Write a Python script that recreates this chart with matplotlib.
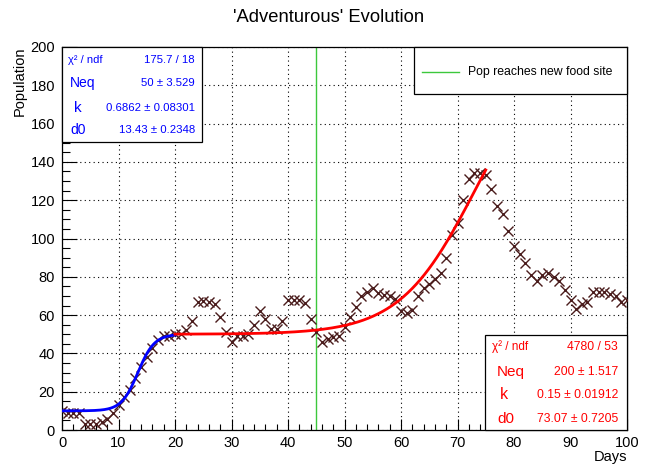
import numpy as np
import matplotlib
matplotlib.use("Agg")
import matplotlib.pyplot as plt
from matplotlib.patches import Rectangle
from matplotlib.ticker import MultipleLocator

plt.rcParams['font.family'] = ['Liberation Sans', 'DejaVu Sans']

# ---------------- data ----------------
days = list(range(0, 101))
population = [
    10, 9, 9, 9, 3, 3, 3, 4, 6, 9,            # 0-9
    13, 17, 21, 27, 33, 38, 43, 47, 49, 49,   # 10-19
    50, 50, 52, 57, 67, 67.5, 67, 66, 59, 51, # 20-29
    46, 49, 49, 50, 55, 62, 58, 53, 53, 57,   # 30-39
    68, 68, 68, 66.5, 58, 51, 46, 47.5, 48.5, 49,  # 40-49
    54, 59, 64, 70, 72, 74, 71.5, 70.5, 70, 68.5,  # 50-59
    62, 61, 62.5, 70, 74, 76.5, 79, 82, 90, 102,   # 60-69
    108, 120, 131, 134, 134, 133, 126, 117, 113, 104,  # 70-79
    96, 92, 87, 81, 78, 81, 82, 80, 78, 73,   # 80-89
    68, 63, 66, 67, 72, 72, 72, 71, 70, 67,   # 90-99
    68,                                       # 100
]

# logistic fit 1 (blue), range 0-20
fit1_neq, fit1_k, fit1_d0, fit1_base = 50.0, 0.6862, 13.43, 10.0
fit1_range = (0, 20)
# logistic fit 2 (red), range 20-75
fit2_neq, fit2_k, fit2_d0, fit2_base = 200.0, 0.15, 73.07, 50.0
fit2_range = (20, 75)

event_day = 45
event_label = "Pop reaches new food site"

stats1_rows = [("χ² / ndf", "175.7 / 18"), ("Neq", "50 ± 3.529"),
               ("k", "0.6862 ± 0.08301"), ("d0", "13.43 ± 0.2348")]
stats2_rows = [("χ² / ndf", "4780 / 53"), ("Neq", "200 ± 1.517"),
               ("k", "0.15 ± 0.01912"), ("d0", "73.07 ± 0.7205")]

title = "'Adventurous' Evolution"
xlabel = "Days"
ylabel = "Population"


def logistic(x, base, neq, k, d0):
    return base + (neq - base) / (1.0 + np.exp(-k * (x - d0)))


# ---------------- figure ----------------
W, H = 652, 466
fig = plt.figure(figsize=(W / 100, H / 100), dpi=100)
ax = fig.add_axes([62 / W, 1 - 430 / H, 565 / W, 383 / H])

ax.set_xlim(0, 100)
ax.set_ylim(0, 200)

# grid
ax.xaxis.set_major_locator(MultipleLocator(10))
ax.xaxis.set_minor_locator(MultipleLocator(2))
ax.yaxis.set_major_locator(MultipleLocator(20))
ax.yaxis.set_minor_locator(MultipleLocator(5))
ax.grid(True, which='major', color='black', linestyle=(0, (1, 3)), linewidth=0.8)
ax.set_axisbelow(True)

ax.tick_params(axis='both', which='both', direction='in', top=False, right=False,
               labelsize=10.5, width=0.8, colors='black')
ax.tick_params(axis='y', which='major', length=11, pad=5)
ax.tick_params(axis='y', which='minor', length=6)
ax.tick_params(axis='x', which='major', length=8, pad=4)
ax.tick_params(axis='x', which='minor', length=4)
for s in ax.spines.values():
    s.set_linewidth(0.9)

# data points
ax.plot(days, population, linestyle='none', marker='x', markersize=6.8,
        markeredgewidth=1.0, color='#4a1c1c', zorder=3)

# fits
x1 = np.linspace(fit1_range[0], fit1_range[1], 300)
ax.plot(x1, logistic(x1, fit1_base, fit1_neq, fit1_k, fit1_d0), color='#0000ff',
        linewidth=2, zorder=4)
x2 = np.linspace(fit2_range[0], fit2_range[1], 300)
ax.plot(x2, logistic(x2, fit2_base, fit2_neq, fit2_k, fit2_d0), color='#ff0000',
        linewidth=2, zorder=4)

# event line
ax.axvline(event_day, color='#3cc83c', linewidth=1.0, zorder=2)

# title & labels
fig.text(329 / W, 1 - 17 / H, title, ha='center', va='center', fontsize=13.2)
fig.text(627 / W, 1 - 457 / H, xlabel, ha='right', va='center', fontsize=10.5)
fig.text(20 / W, 1 - 47 / H, ylabel, ha='center', va='top', rotation=90,
         fontsize=10.5)

# legend box
def box(x0, y0, x1_, y1_):
    r = Rectangle((x0, y0), x1_ - x0, y1_ - y0, transform=ax.transAxes,
                  facecolor='white', edgecolor='black', linewidth=0.9,
                  zorder=6, clip_on=False)
    ax.add_patch(r)

box(0.623, 0.877, 1.0, 1.0)
ax.plot([0.6375, 0.7032], [0.934, 0.934], transform=ax.transAxes,
        color='#3cc83c', linewidth=1.0, zorder=7, clip_on=False)
ax.text(0.719, 0.934, event_label, transform=ax.transAxes, fontsize=8.8,
        va='center', ha='left', zorder=7)

# stats boxes
box(0.0, 0.752, 0.248, 1.0)
ys1 = [0.966, 0.905, 0.840, 0.783]
lx1 = [0.0106, 0.014, 0.021, 0.015]
lsz = [8, 10, 11, 10]
for (lab, val), yy, lx, fs in zip(stats1_rows, ys1, lx1, lsz):
    ax.text(lx, yy, lab, transform=ax.transAxes, color='#0000ff', fontsize=fs,
            ha='left', va='center', zorder=7)
    ax.text(0.2354, yy, val, transform=ax.transAxes, color='#0000ff', fontsize=8.2,
            ha='right', va='center', zorder=7)

box(0.749, 0.0, 1.0, 0.248)
ys2 = [0.2175, 0.152, 0.0914, 0.028]
lx2 = [0.7605, 0.770, 0.775, 0.770]
lsz2 = [8.5, 11, 11.5, 11]
for (lab, val), yy, lx, fs in zip(stats2_rows, ys2, lx2, lsz2):
    ax.text(lx, yy, lab, transform=ax.transAxes, color='#ff0000', fontsize=fs,
            ha='left', va='center', zorder=7)
    ax.text(0.984, yy, val, transform=ax.transAxes, color='#ff0000', fontsize=8.7,
            ha='right', va='center', zorder=7)

fig.savefig("out.png", dpi=100)
